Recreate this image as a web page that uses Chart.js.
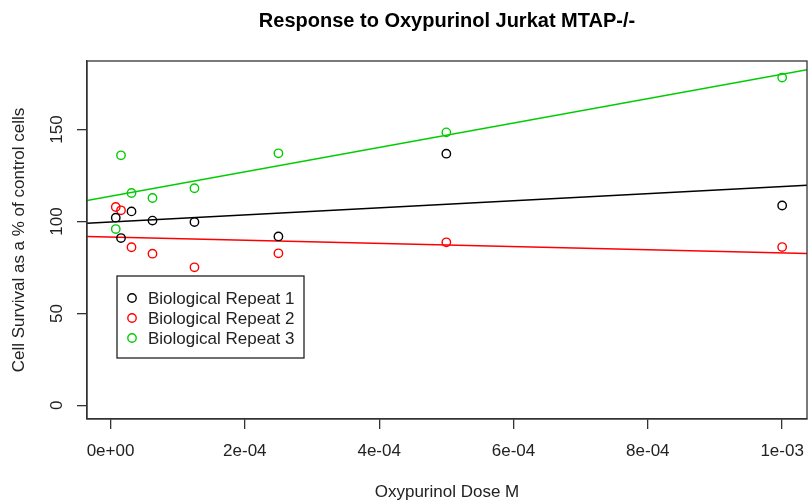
<!DOCTYPE html>
<html>
<head>
<meta charset="utf-8">
<script src="https://cdn.jsdelivr.net/npm/chart.js@4/dist/chart.umd.min.js"></script>
<style>
  html, body { margin: 0; padding: 0; background: #fff; }
  #wrap { width: 808px; height: 504px; }
</style>
</head>
<body>
<div id="wrap"><canvas id="c" width="808" height="504"></canvas></div>
<script>
// Oxypurinol doses (M), 2-fold serial dilution
const doses = [7.8125e-6, 1.5625e-5, 3.125e-5, 6.25e-5, 1.25e-4, 2.5e-4, 5e-4, 1e-3];

// cell survival, % of control
const repeat1 = [102.1, 91.0, 105.5, 100.5, 99.7, 91.9, 136.9, 108.7];
const repeat2 = [107.9, 106.1, 86.0, 82.5, 75.1, 82.7, 88.7, 86.1];
const repeat3 = [95.9, 136.0, 115.5, 112.8, 118.1, 137.1, 148.5, 178.3];

const seriesNames = ["Biological Repeat 1", "Biological Repeat 2", "Biological Repeat 3"];
const seriesColors = ["#000000", "#ff0000", "#00cd00"];

const xTicks = [0, 2e-4, 4e-4, 6e-4, 8e-4, 1e-3];
const xTickLabels = ["0e+00", "2e-04", "4e-04", "6e-04", "8e-04", "1e-03"];
const yTicks = [0, 50, 100, 150];

const X_MIN = -3.5e-5, X_MAX = 1.037e-3;
const Y_MIN = -7.4, Y_MAX = 187.3;
const FONT = '"Liberation Sans", Arial, sans-serif';

// ordinary least squares, like abline(lm(y ~ x))
function fit(xs, ys) {
  const n = xs.length;
  const mx = xs.reduce((a, b) => a + b, 0) / n;
  const my = ys.reduce((a, b) => a + b, 0) / n;
  let sxy = 0, sxx = 0;
  for (let i = 0; i < n; i++) {
    sxy += (xs[i] - mx) * (ys[i] - my);
    sxx += (xs[i] - mx) * (xs[i] - mx);
  }
  const b = sxy / sxx;
  return { a: my - b * mx, b };
}

const allSeries = [repeat1, repeat2, repeat3];
const datasets = [];
allSeries.forEach((ys, i) => {
  datasets.push({
    label: seriesNames[i],
    type: "scatter",
    data: doses.map((d, k) => ({ x: d, y: ys[k] })),
    borderColor: seriesColors[i],
    backgroundColor: "rgba(0,0,0,0)",
    pointRadius: 4.2,
    pointBorderWidth: 1.4,
    pointHoverRadius: 4.2,
  });
});
allSeries.forEach((ys, i) => {
  const f = fit(doses, ys);
  datasets.push({
    label: "fit" + (i + 1),
    type: "line",
    data: [X_MIN, X_MAX].map((x) => ({ x, y: f.a + f.b * x })),
    borderColor: seriesColors[i],
    borderWidth: 1.5,
    pointRadius: 0,
    fill: false,
  });
});

// R-style decorations: box, titles, tick labels (placed with the chart's scales), legend
const decor = {
  id: "decor",
  afterDraw(chart) {
    const ctx = chart.ctx;
    const area = chart.chartArea;
    const xs = chart.scales.x;
    const ys = chart.scales.y;
    ctx.save();
    ctx.strokeStyle = "#333";
    ctx.lineWidth = 1.3;
    ctx.strokeRect(area.left, area.top, area.right - area.left, area.bottom - area.top);

    ctx.fillStyle = "#000";
    ctx.textAlign = "center";
    ctx.textBaseline = "middle";
    ctx.font = "bold 20px " + FONT;
    ctx.fillText("Response to Oxypurinol Jurkat MTAP-/-", 447, 21);

    ctx.fillStyle = "#222";
    ctx.font = "17px " + FONT;
    ctx.fillText("Oxypurinol Dose M", (area.left + area.right) / 2, 492);
    ctx.save();
    ctx.translate(19, (area.top + area.bottom) / 2);
    ctx.rotate(-Math.PI / 2);
    ctx.fillText("Cell Survival as a % of control cells", 0, 0);
    ctx.restore();

    xs.ticks.forEach((t, i) => {
      ctx.fillText(xTickLabels[i], xs.getPixelForValue(t.value), 451);
    });

    ys.ticks.forEach((t) => {
      ctx.save();
      ctx.translate(57, ys.getPixelForValue(t.value));
      ctx.rotate(-Math.PI / 2);
      ctx.fillText(String(t.value), 0, 0);
      ctx.restore();
    });

    const lx = 117, ly = 276, lw = 187, lh = 82;
    ctx.fillStyle = "#fff";
    ctx.fillRect(lx, ly, lw, lh);
    ctx.strokeStyle = "#222";
    ctx.lineWidth = 1.3;
    ctx.strokeRect(lx, ly, lw, lh);
    ctx.textAlign = "left";
    seriesNames.forEach((name, i) => {
      const cy = 298 + i * 20;
      ctx.beginPath();
      ctx.strokeStyle = seriesColors[i];
      ctx.lineWidth = 1.4;
      ctx.arc(132, cy, 4.2, 0, Math.PI * 2);
      ctx.stroke();
      ctx.fillStyle = "#222";
      ctx.fillText(name, 148, cy + 1);
    });
    ctx.restore();
  },
};

const tickGrid = { display: true, drawOnChartArea: false, drawTicks: true, tickLength: 10, color: "#333", lineWidth: 1.3 };

new Chart(document.getElementById("c"), {
  data: { datasets },
  options: {
    responsive: false,
    animation: false,
    events: [],
    // autoPadding off: otherwise point radius adds ~5px on the right of the plot box
    layout: { autoPadding: false, padding: { left: 0, top: 61, right: 1, bottom: 0 } },
    plugins: { legend: { display: false }, title: { display: false }, tooltip: { enabled: false } },
    scales: {
      x: {
        type: "linear",
        min: X_MIN,
        max: X_MAX,
        afterBuildTicks: (s) => { s.ticks = xTicks.map((v) => ({ value: v })); },
        afterFit: (s) => { s.height = 85; s.paddingLeft = 0; s.paddingRight = 0; },
        grid: tickGrid,
        border: { display: true, color: "#333", width: 1.3 },
        ticks: { display: false },
      },
      y: {
        type: "linear",
        min: Y_MIN,
        max: Y_MAX,
        afterBuildTicks: (s) => { s.ticks = yTicks.map((v) => ({ value: v })); },
        afterFit: (s) => { s.width = 87; s.paddingTop = 0; s.paddingBottom = 0; },
        grid: tickGrid,
        border: { display: true, color: "#333", width: 1.3 },
        ticks: { display: false },
      },
    },
  },
  plugins: [decor],
});
</script>
</body>
</html>
